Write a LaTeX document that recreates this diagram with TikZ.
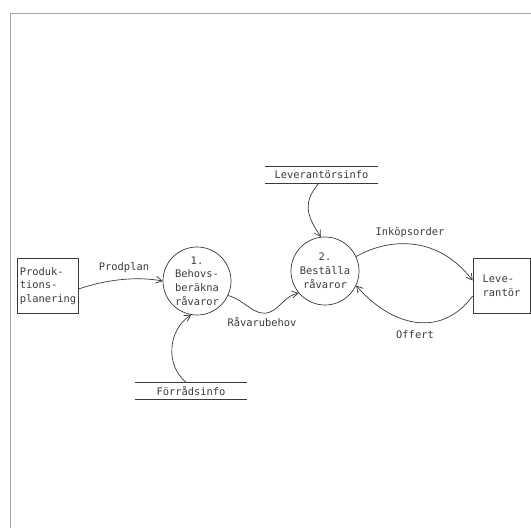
\documentclass[tikz,border=0pt]{standalone}
\usepackage{fontspec}
\setmonofont{DejaVu Sans Mono}
\usetikzlibrary{arrows.meta}
\definecolor{ink}{HTML}{3A3A3A}
\tikzset{
  every node/.style={font=\ttfamily\fontsize{10.4}{13.8}\selectfont, text=ink},
  flow/.style={draw=ink, line width=0.7pt, -{Straight Barb[length=6pt,width=7pt]}},
  entity/.style={draw=ink, line width=0.7pt, minimum width=58pt, minimum height=55pt, align=left, inner sep=2pt},
  process/.style={circle, draw=ink, line width=0.7pt, minimum size=68pt, align=center, inner sep=0pt},
  store/.style={minimum width=112pt, minimum height=17pt, inner sep=0pt},
  lbl/.style={inner sep=1pt}
}
\begin{document}
\begin{tikzpicture}[x=1pt,y=-1pt]
  \useasboundingbox (0,0) rectangle (531,528);
  % page frame
  \draw[gray!70, line width=0.8pt] (10,528) -- (10,13) -- (531,13);

  % external entities
  \node[entity] (prod) at (48,286) {Produk-\\tions-\\planering};
  \node[entity, minimum width=57pt] (lev) at (501.5,285.5) {Leve-\\rantör};

  % processes
  \node[process] (p1) at (197,281) {1.\\Behovs-\\beräkna\\råvaror};
  \node[process] (p2) at (325,271) {2.\\Beställa\\råvaror};

  % data stores
  \node[store] (ls) at (321.5,175) {Leverantörsinfo};
  \draw[ink, line width=0.7pt] (ls.north west) -- (ls.north east)
                               (ls.south west) -- (ls.south east);
  \node[store] (fs) at (191,391) {Förrådsinfo};
  \draw[ink, line width=0.7pt] (fs.north west) -- (fs.north east)
                               (fs.south west) -- (fs.south east);

  % data flows
  \draw[flow] (prod.east) ++(0,3) coordinate (pa)
    (pa) .. controls (105,280) and (135,276) .. (p1.west);
  \node[lbl] (lprod) at (124,268) {Prodplan};

  \draw[flow] (p1.-25) .. controls (245,300) and (255,318) .. (270,312)
    .. controls (280,308) and (285,296) .. (p2.220);
  \node[lbl] (lraw) at (262,322) {Råvarubehov};

  \draw[flow] (ls.south) ++(-3,0) coordinate (lsa)
    (lsa) .. controls (300,205) and (310,220) .. (p2.97);

  \draw[flow] (fs.north) ++(-5,0) coordinate (fsa)
    (fsa) .. controls (165,365) and (168,330) .. (p1.260);

  \draw[flow] (p2.25) .. controls (385,240) and (435,232) .. (lev.170);
  \node[lbl] (link) at (410,233) {Inköpsorder};

  \draw[flow] (lev.200) .. controls (440,340) and (390,325) .. (p2.-25);
  \node[lbl] (loff) at (415,335) {Offert};
\end{tikzpicture}
\end{document}
